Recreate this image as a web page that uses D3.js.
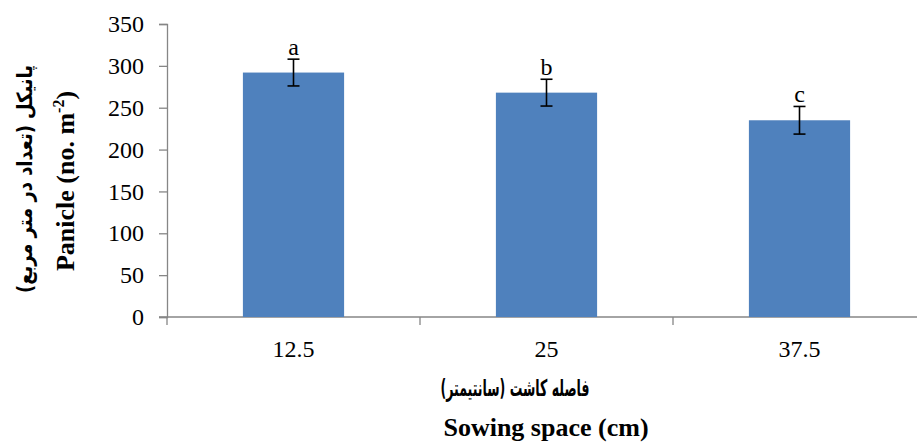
<!DOCTYPE html>
<html>
<head>
<meta charset="utf-8">
<script src="https://cdn.jsdelivr.net/npm/d3@7/dist/d3.min.js"></script>
<style>
  html, body { margin: 0; padding: 0; background: #fff; }
  svg text { font-family: "Times New Roman", "Liberation Serif", "DejaVu Serif", serif; fill: #000; }
  svg text.fa { font-family: "DejaVu Sans", "Noto Sans", sans-serif; }
</style>
</head>
<body>
<svg id="chart" width="917" height="447"></svg>
<script>
// Panicle number per square metre by sowing space
const categories = ["12.5", "25", "37.5"];
const values = [292, 268, 235];
const errors = [16, 16, 16.5];
const letters = ["a", "b", "c"];
const yTicks = [0, 50, 100, 150, 200, 250, 300, 350];

const svg = d3.select("#chart");
const axisColor = "#868686";
const x0 = 167;

const x = d3.scaleBand().domain(categories).range([x0, 926]).paddingInner(0.6).paddingOuter(0.3);
const y = d3.scaleLinear().domain([0, 350]).range([317, 24]);

// Y axis
const yAxis = svg.append("g").attr("transform", `translate(${x0},0)`)
  .call(d3.axisLeft(y).tickValues(yTicks).tickSize(8).tickPadding(15));
yAxis.attr("font-family", null);
yAxis.select(".domain").attr("stroke", axisColor).attr("stroke-width", 1.3);
yAxis.selectAll(".tick line").attr("stroke", axisColor).attr("stroke-width", 1.3);
yAxis.selectAll(".tick text").attr("font-size", 24);

// X axis with ticks at category boundaries
const step = x.step();
svg.append("line").attr("x1", x0 - 8).attr("x2", 917).attr("y1", y(0)).attr("y2", y(0))
  .attr("stroke", axisColor).attr("stroke-width", 1.3);
const bounds = [0, 1, 2, 3].map(i => x0 + i * step);
svg.selectAll(".xtick").data(bounds).enter().append("line")
  .attr("x1", d => d).attr("x2", d => d).attr("y1", y(0)).attr("y2", y(0) + 8)
  .attr("stroke", axisColor).attr("stroke-width", 1.3);
svg.selectAll(".xlab").data(categories).enter().append("text")
  .attr("x", d => x(d) + x.bandwidth() / 2).attr("y", 356.5)
  .attr("text-anchor", "middle").attr("font-size", 24).text(d => d);

// Bars
svg.selectAll(".bar").data(values).enter().append("rect")
  .attr("x", (d, i) => x(categories[i]))
  .attr("width", x.bandwidth())
  .attr("y", d => y(d))
  .attr("height", d => y(0) - y(d))
  .attr("fill", "#4F81BD");

// Error bars
const eb = svg.append("g").attr("stroke", "#000").attr("stroke-width", 1.6);
values.forEach((v, i) => {
  const cx = x(categories[i]) + x.bandwidth() / 2;
  const hi = y(v + errors[i]), lo = y(v - errors[i]);
  eb.append("line").attr("x1", cx).attr("x2", cx).attr("y1", hi).attr("y2", lo);
  eb.append("line").attr("x1", cx - 6).attr("x2", cx + 6).attr("y1", hi).attr("y2", hi);
  eb.append("line").attr("x1", cx - 6).attr("x2", cx + 6).attr("y1", lo).attr("y2", lo);
});

// Significance letters
svg.selectAll(".let").data(letters).enter().append("text")
  .attr("x", (d, i) => x(categories[i]) + x.bandwidth() / 2)
  .attr("y", (d, i) => y(values[i] + errors[i]) - 4)
  .attr("text-anchor", "middle").attr("font-size", 24).text(d => d);

// Y axis titles
const yt = svg.append("text").attr("transform", "translate(74,181) rotate(-90)")
  .attr("text-anchor", "middle").attr("font-size", 26).attr("font-weight", "bold");
yt.append("tspan").text("Panicle (no. m");
yt.append("tspan").attr("font-size", 16).attr("dy", -10).text("-2");
yt.append("tspan").attr("dy", 10).text(")");

svg.append("text").attr("class", "fa").attr("transform", "translate(32,179) rotate(-90)")
  .attr("text-anchor", "middle").attr("font-size", 21).attr("font-weight", "bold")
  .attr("direction", "rtl").attr("textLength", 228).attr("lengthAdjust", "spacingAndGlyphs")
  .text("پانیکل (تعداد در متر مربع)");

// X axis titles
svg.append("text").attr("class", "fa").attr("x", 515).attr("y", 396)
  .attr("text-anchor", "middle").attr("font-size", 23).attr("font-weight", "bold")
  .attr("direction", "rtl").attr("textLength", 149).attr("lengthAdjust", "spacingAndGlyphs")
  .text("فاصله کاشت (سانتیمتر)");
svg.append("text").attr("x", 546).attr("y", 436)
  .attr("text-anchor", "middle").attr("font-size", 26).attr("font-weight", "bold")
  .text("Sowing space (cm)");
</script>
</body>
</html>
